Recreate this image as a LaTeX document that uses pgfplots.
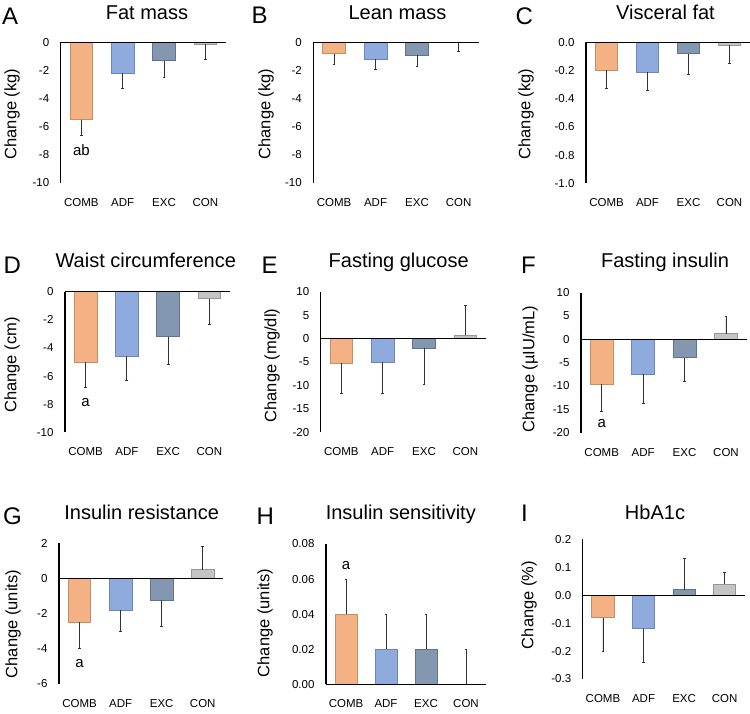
\documentclass[border=0pt]{standalone}
\usepackage{fontspec}
\setmainfont{Liberation Sans}
\usepackage{pgfplots}
\pgfplotsset{compat=1.18}

\definecolor{combf}{HTML}{F4B183}
\definecolor{combd}{HTML}{C48E66}
\definecolor{adff}{HTML}{8FAADC}
\definecolor{adfd}{HTML}{6A86BC}
\definecolor{excf}{HTML}{8497B0}
\definecolor{excd}{HTML}{61738C}
\definecolor{conf}{HTML}{C4C4C4}
\definecolor{cond}{HTML}{969696}

\pgfplotsset{
  panel/.style={
    scale only axis, anchor=south west, clip=false,
    xmin=0, xmax=4, enlargelimits=false,
    scaled y ticks=false,
    axis lines*=left,
    x axis line style={draw=none},
    y axis line style={line width=1.2pt},
    major tick length=0pt,
    xtick={0.5,1.5,2.5,3.5},
    xticklabels={COMB,ADF,EXC,CON},
    xticklabel style={font=\fontsize{11.5}{13}\selectfont, yshift=-12pt},
    yticklabel style={font=\fontsize{11.5}{13}\selectfont, xshift=-8pt},
  },
  bar/.style={ybar, bar width=0.55, bar shift=0pt, line width=0.8pt,
    error bars/y explicit,
    error bars/error bar style={line width=0.9pt, black!80},
    error bars/error mark options={rotate=90, mark size=1.4pt, line width=0.9pt, black!80}},
  down/.style={error bars/y dir=minus},
  up/.style={error bars/y dir=plus},
  comb/.style={bar, fill=combf, draw=combd},
  adf/.style={bar, fill=adff, draw=adfd},
  exc/.style={bar, fill=excf, draw=excd},
  con/.style={bar, fill=conf, draw=cond},
}
\newcommand{\zeroline}{\draw[line width=1.3pt] (axis cs:0,0) -- (axis cs:4,0);}
\newcommand{\ttl}{\fontsize{20}{22}\selectfont}
\newcommand{\ltr}{\fontsize{24}{26}\selectfont}
\newcommand{\ylb}{\fontsize{16.5}{18}\selectfont}
\newcommand{\ann}{\fontsize{15}{17}\selectfont}

\begin{document}
\begin{tikzpicture}

% A Fat mass
\begin{axis}[panel, at={(60.7pt,530.3pt)}, width=165.3pt, height=140.4pt,
  ymin=-10, ymax=0, ytick={-10,-8,-6,-4,-2,0}, yticklabels={-10,-8,-6,-4,-2,0}]
\addplot[comb, down] coordinates {(0.5,-5.5) +- (0,1.1)};
\addplot[adf, down] coordinates {(1.5,-2.2) +- (0,1.1)};
\addplot[exc, down] coordinates {(2.5,-1.3) +- (0,1.2)};
\addplot[con, down] coordinates {(3.5,-0.15) +- (0,1.05)};
\zeroline
\node[font=\ann] at (axis cs:0.5,-7.7) {ab};
\end{axis}

% B Lean mass
\begin{axis}[panel, at={(313.3pt,530.3pt)}, width=166pt, height=140.4pt,
  ymin=-10, ymax=0, ytick={-10,-8,-6,-4,-2,0}, yticklabels={-10,-8,-6,-4,-2,0}]
\addplot[comb, down] coordinates {(0.5,-0.8) +- (0,0.8)};
\addplot[adf, down] coordinates {(1.5,-1.2) +- (0,0.7)};
\addplot[exc, down] coordinates {(2.5,-0.9) +- (0,0.8)};
\addplot[con, down] coordinates {(3.5,-0.02) +- (0,0.6)};
\zeroline
\end{axis}

% C Visceral fat
\begin{axis}[panel, at={(586pt,529.7pt)}, width=164pt, height=141pt,
  ymin=-1, ymax=0, ytick={-1,-0.8,-0.6,-0.4,-0.2,0}, yticklabels={-1.0,-0.8,-0.6,-0.4,-0.2,0.0}]
\addplot[comb, down] coordinates {(0.5,-0.20) +- (0,0.13)};
\addplot[adf, down] coordinates {(1.5,-0.21) +- (0,0.13)};
\addplot[exc, down] coordinates {(2.5,-0.08) +- (0,0.15)};
\addplot[con, down] coordinates {(3.5,-0.02) +- (0,0.13)};
\zeroline
\end{axis}

% D Waist circumference
\begin{axis}[panel, at={(65pt,280.7pt)}, width=165pt, height=140.6pt,
  ymin=-10, ymax=0, ytick={-10,-8,-6,-4,-2,0}, yticklabels={-10,-8,-6,-4,-2,0}]
\addplot[comb, down] coordinates {(0.5,-5.0) +- (0,1.8)};
\addplot[adf, down] coordinates {(1.5,-4.6) +- (0,1.7)};
\addplot[exc, down] coordinates {(2.5,-3.2) +- (0,2.0)};
\addplot[con, down] coordinates {(3.5,-0.5) +- (0,1.8)};
\zeroline
\node[font=\ann] at (axis cs:0.5,-7.9) {a};
\end{axis}

% E Fasting glucose
\begin{axis}[panel, at={(320.7pt,280.7pt)}, width=165.3pt, height=140.6pt,
  ymin=-20, ymax=10, ytick={-20,-15,-10,-5,0,5,10}, yticklabels={-20,-15,-10,-5,0,5,10}]
\addplot[comb, down] coordinates {(0.5,-5.2) +- (0,6.6)};
\addplot[adf, down] coordinates {(1.5,-5.1) +- (0,6.6)};
\addplot[exc, down] coordinates {(2.5,-2.0) +- (0,7.7)};
\addplot[con, up] coordinates {(3.5,0.7) +- (0,6.4)};
\zeroline
\end{axis}

% F Fasting insulin
\begin{axis}[panel, at={(581pt,280.3pt)}, width=165.7pt, height=140pt,
  ymin=-20, ymax=10, ytick={-20,-15,-10,-5,0,5,10}, yticklabels={-20,-15,-10,-5,0,5,10}]
\addplot[comb, down] coordinates {(0.5,-9.6) +- (0,5.8)};
\addplot[adf, down] coordinates {(1.5,-7.5) +- (0,6.2)};
\addplot[exc, down] coordinates {(2.5,-3.9) +- (0,5.1)};
\addplot[con, up] coordinates {(3.5,1.2) +- (0,3.7)};
\zeroline
\node[font=\ann] at (axis cs:0.5,-18) {a};
\end{axis}

% G Insulin resistance
\begin{axis}[panel, at={(59pt,29pt)}, width=164.3pt, height=140.7pt,
  ymin=-6, ymax=2, ytick={-6,-4,-2,0,2}, yticklabels={-6,-4,-2,0,2}]
\addplot[comb, down] coordinates {(0.5,-2.5) +- (0,1.5)};
\addplot[adf, down] coordinates {(1.5,-1.8) +- (0,1.2)};
\addplot[exc, down] coordinates {(2.5,-1.25) +- (0,1.5)};
\addplot[con, up] coordinates {(3.5,0.5) +- (0,1.3)};
\zeroline
\node[font=\ann] at (axis cs:0.5,-4.85) {a};
\end{axis}

% H Insulin sensitivity
\begin{axis}[panel, at={(326pt,28.7pt)}, width=160pt, height=140.3pt,
  ymin=0, ymax=0.08, ytick={0,0.02,0.04,0.06,0.08}, yticklabels={0.00,0.02,0.04,0.06,0.08}]
\addplot[comb, up] coordinates {(0.5,0.04) +- (0,0.02)};
\addplot[adf, up] coordinates {(1.5,0.02) +- (0,0.02)};
\addplot[exc, up] coordinates {(2.5,0.02) +- (0,0.02)};
\addplot[con, up] coordinates {(3.5,0) +- (0,0.02)};
\zeroline
\node[font=\ann] at (axis cs:0.5,0.068) {a};
\end{axis}

% I HbA1c
\begin{axis}[panel, at={(582.7pt,34pt)}, width=162.3pt, height=139.7pt,
  ymin=-0.3, ymax=0.2, ytick={-0.3,-0.2,-0.1,0,0.1,0.2}, yticklabels={-0.3,-0.2,-0.1,0.0,0.1,0.2}]
\addplot[comb, down] coordinates {(0.5,-0.08) +- (0,0.12)};
\addplot[adf, down] coordinates {(1.5,-0.12) +- (0,0.12)};
\addplot[exc, up] coordinates {(2.5,0.02) +- (0,0.11)};
\addplot[con, up] coordinates {(3.5,0.04) +- (0,0.04)};
\zeroline
\end{axis}

% titles
\node[font=\ttl, anchor=base] at (147pt,693pt) {Fat mass};
\node[font=\ttl, anchor=base] at (397.5pt,693pt) {Lean mass};
\node[font=\ttl, anchor=base] at (665.5pt,693pt) {Visceral fat};
\node[font=\ttl, anchor=base] at (145.8pt,445pt) {Waist circumference};
\node[font=\ttl, anchor=base] at (398.7pt,445pt) {Fasting glucose};
\node[font=\ttl, anchor=base] at (665pt,445pt) {Fasting insulin};
\node[font=\ttl, anchor=base] at (141.7pt,193.5pt) {Insulin resistance};
\node[font=\ttl, anchor=base] at (400.8pt,193.5pt) {Insulin sensitivity};
\node[font=\ttl, anchor=base] at (655pt,193.5pt) {HbA1c};

% panel letters
\node[font=\ltr, anchor=base west, inner sep=0pt] at (2pt,688.5pt) {A};
\node[font=\ltr, anchor=base west, inner sep=0pt] at (251.5pt,689pt) {B};
\node[font=\ltr, anchor=base west, inner sep=0pt] at (515.5pt,688.5pt) {C};
\node[font=\ltr, anchor=base west, inner sep=0pt] at (3.5pt,439.7pt) {D};
\node[font=\ltr, anchor=base west, inner sep=0pt] at (261.5pt,439.7pt) {E};
\node[font=\ltr, anchor=base west, inner sep=0pt] at (521pt,439.7pt) {F};
\node[font=\ltr, anchor=base west, inner sep=0pt] at (3pt,188pt) {G};
\node[font=\ltr, anchor=base west, inner sep=0pt] at (256.5pt,188pt) {H};
\node[font=\ltr, anchor=base west, inner sep=0pt] at (521pt,192pt) {I};

% y labels
\node[font=\ylb, rotate=90] at (12pt,599pt) {Change (kg)};
\node[font=\ylb, rotate=90] at (266pt,599pt) {Change (kg)};
\node[font=\ylb, rotate=90] at (526pt,599pt) {Change (kg)};
\node[font=\ylb, rotate=90] at (12pt,348pt) {Change (cm)};
\node[font=\ylb, rotate=90] at (272pt,347.5pt) {Change (mg/dl)};
\node[font=\ylb, rotate=90] at (530pt,344pt) {Change (µIU/mL)};
\node[font=\ylb, rotate=90] at (13pt,89pt) {Change (units)};
\node[font=\ylb, rotate=90] at (265pt,90pt) {Change (units)};
\node[font=\ylb, rotate=90] at (529pt,108pt) {Change (\%)};

\pgfresetboundingbox
\useasboundingbox (0pt,0pt) rectangle (750pt,713pt);
\end{tikzpicture}
\end{document}
